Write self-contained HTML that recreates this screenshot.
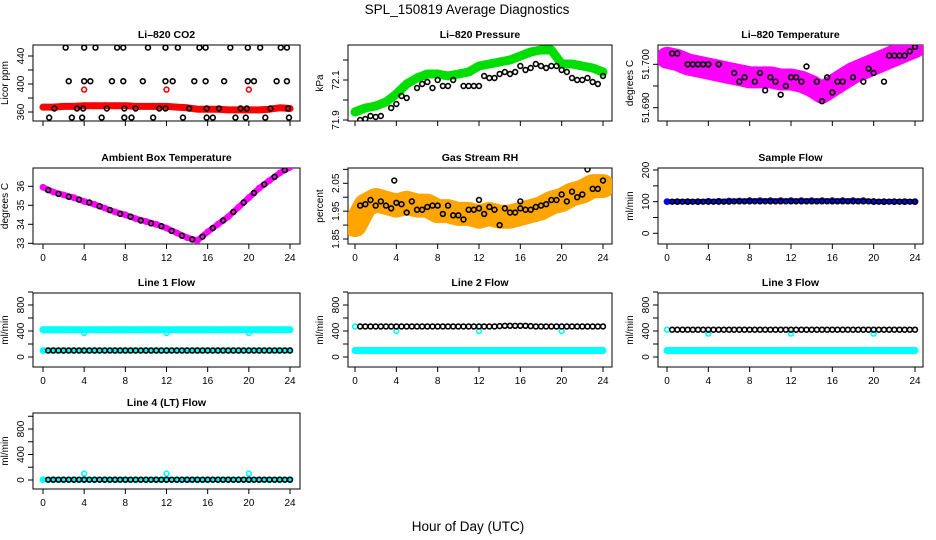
<!DOCTYPE html>
<html><head><meta charset="utf-8"><style>
html,body{margin:0;padding:0;background:#fff}
svg{display:block}
text{font-family:"Liberation Sans",sans-serif;fill:#000}
</style></head><body>
<svg id="chart" width="936" height="540" viewBox="0 0 936 540" xmlns="http://www.w3.org/2000/svg">
<text x="467" y="14" text-anchor="middle" font-size="13.5">SPL_150819  Average Diagnostics</text>
<text x="468" y="531" text-anchor="middle" font-size="13.5">Hour of Day (UTC)</text>
</svg>
<script>
// ---------- data arrays ----------
const hours = [0,1,2,3,4,5,6,7,8,9,10,11,12,13,14,15,16,17,18,19,20,21,22,23,24];
const halfHours = [0.5,1.5,2.5,3.5,4.5,5.5,6.5,7.5,8.5,9.5,10.5,11.5,12.5,13.5,14.5,15.5,16.5,17.5,18.5,19.5,20.5,21.5,22.5,23.5];
const flowX = [0.5,1,1.5,2,2.5,3,3.5,4,4.5,5,5.5,6,6.5,7,7.5,8,8.5,9,9.5,10,10.5,11,11.5,12,12.5,13,13.5,14,14.5,15,15.5,16,16.5,17,17.5,18,18.5,19,19.5,20,20.5,21,21.5,22,22.5,23,23.5,24];
const xTicks = [0,4,8,12,16,20,24];

// CO2
const co2Red = [367,367,368,368,369,369,369,369,369,368,368,368,368,367,366,364,364,364,363,363,363,363,364,366,365];
const co2OutX = [4,12,20];
const co2OutY = [392,392,392];
const co2TopX = [2.2,4.0,5.1,7.2,7.8,10.2,11.9,13.1,15.2,15.8,18.2,19.9,21.1,23.1,23.7];
const co2MidX = [2.5,4.0,4.6,6.7,7.8,9.7,11.9,12.6,14.7,15.8,17.6,19.9,20.5,22.7,23.7];
const co2LowX = [1.1,3.3,3.9,6.2,7.9,9.0,11.3,11.9,14.2,15.9,17.1,19.2,19.8,22.1,23.8];
const co2BotX = [0.6,2.8,3.8,5.7,7.9,8.6,10.7,13.6,15.9,16.5,18.7,19.7,21.6,23.9];
const co2Levels = [452,404,365,352];

// Pressure
const presGreen = [71.94,71.96,71.97,71.99,72.03,72.08,72.11,72.13,72.13,72.12,72.13,72.14,72.17,72.18,72.19,72.20,72.22,72.24,72.25,72.25,72.18,72.18,72.17,72.16,72.14];
const presBlkX = [0.5,1,1.5,2,2.5,3.5,4,4.5,5,6,6.5,7,7.5,8,8.5,9,9.5,10.5,11,11.5,12,12.5,13,13.5,14,14.5,15,15.5,16,16.5,17,17.5,18,18.5,19,19.5,20,20.5,21,21.5,22,22.5,23,23.5,24];
const presBlkY = [71.90,71.905,71.92,71.915,71.92,71.96,71.98,72.02,72.01,72.06,72.08,72.09,72.06,72.1,72.07,72.07,72.1,72.07,72.07,72.07,72.07,72.12,72.11,72.11,72.13,72.14,72.13,72.14,72.17,72.15,72.16,72.18,72.17,72.16,72.17,72.17,72.15,72.14,72.11,72.1,72.1,72.11,72.09,72.08,72.12];

// Li-820 temperature
const tempMag = [51.7015,51.701,51.7,51.6995,51.699,51.6985,51.698,51.6975,51.697,51.697,51.697,51.6965,51.6965,51.696,51.695,51.6935,51.695,51.6965,51.698,51.699,51.7,51.701,51.702,51.703,51.704];
const tempBlkX = [0.5,1,2,2.5,3,3.5,4,5,6.5,7,7.5,8.5,9,9.5,10,10.5,11,11.5,12,12.5,13,13.5,14.5,15,15.5,16,16.5,17,18,19,19.5,20,21,21.5,22,22.5,23,23.5,24];
const tempBlkY = [51.7025,51.7025,51.7,51.7,51.7,51.7,51.7,51.7,51.698,51.696,51.697,51.696,51.698,51.694,51.697,51.696,51.693,51.695,51.697,51.697,51.696,51.6995,51.696,51.6915,51.697,51.6935,51.696,51.696,51.697,51.696,51.699,51.698,51.696,51.702,51.702,51.702,51.702,51.703,51.704];

// Ambient box temperature
const boxMag = [35.95,35.7,35.55,35.4,35.2,35.05,34.85,34.65,34.5,34.3,34.15,34.0,33.8,33.55,33.3,33.15,33.6,34.0,34.4,34.9,35.4,35.9,36.3,36.7,37.0];
const boxBlk = [35.8,35.6,35.45,35.3,35.15,34.95,34.75,34.55,34.4,34.2,34.05,33.9,33.65,33.4,33.2,33.35,33.8,34.2,34.65,35.15,35.65,36.1,36.5,36.85];

// Gas stream RH
const rhOrange = [1.90,1.97,1.99,1.98,1.97,1.98,1.97,1.97,1.95,1.95,1.94,1.94,1.93,1.94,1.93,1.93,1.94,1.95,1.96,1.98,1.99,2.01,2.02,2.04,2.04];
const rhBlkX = [0.5,1,1.5,2,2.5,3,3.5,3.8,4,4.5,5,5.5,6,6.5,7,7.5,8,8.5,9,9.5,10,10.5,11,11.5,12,12,12.5,13,13.5,14,14.5,15,15.5,16,16,16.5,17,17.5,18,18.5,19,19.5,20,20.5,21,21.5,22,22.5,23,23.5,24];
const rhBlkY = [1.97,1.975,1.99,1.97,1.985,1.97,1.96,2.06,1.98,1.975,1.945,1.985,1.955,1.955,1.965,1.97,1.97,1.94,1.97,1.935,1.935,1.92,1.955,1.955,1.96,1.99,1.94,1.965,1.955,1.90,1.96,1.945,1.945,1.985,1.96,1.955,1.955,1.965,1.97,1.975,1.99,1.99,2.01,1.985,2.02,2.0,2.01,2.1,2.03,2.03,2.06];

// Flows
const sampleBlue = [100,100,100,100,101,101,102,102,103,103,103,103,103,103,103,103,103,103,103,103,100,100,100,100,100];
const sampleBlk = [100,100,100,100,100,100,100,100,100,100,100,100,101,101,101,101,101,101,101,101,101,101,101,101,101,101,101,101,101,101,101,101,101,101,101,101,101,101,101,101,100,100,100,100,100,100,100,100];
const l1CyanHi = [420,420,420,420,420,420,420,420,420,420,420,420,420,420,420,420,420,420,420,420,420,420,420,420,420];
const l1CyanLo = [100,100,100,100,100,100,100,100,100,100,100,100,100,100,100,100,100,100,100,100,100,100,100,100,100];
const l1Blk = [100,100,100,100,100,100,100,100,100,100,100,100,100,100,100,100,100,100,100,100,100,100,100,100,100,100,100,100,100,100,100,100,100,100,100,100,100,100,100,100,100,100,100,100,100,100,100,100];
const l1OutY = [370,370,370];
const l2CyanLo = [100,100,100,100,100,100,100,100,100,100,100,100,100,100,100,100,100,100,100,100,100,100,100,100,100];
const l2Blk = [470,470,470,470,470,470,470,470,470,470,470,470,470,470,470,470,470,470,470,470,470,470,470,470,470,470,470,475,480,480,480,480,480,475,470,470,470,470,470,470,470,470,470,470,470,470,470,470];
const l2OutY = [400,400,400];
const l3CyanLo = [100,100,100,100,100,100,100,100,100,100,100,100,100,100,100,100,100,100,100,100,100,100,100,100,100];
const l3Blk = [420,420,420,420,420,420,420,420,420,420,420,420,420,420,420,420,420,420,420,420,420,420,420,420,420,420,420,420,420,420,420,420,420,420,420,420,420,420,420,420,420,420,420,420,420,420,420,420];
const l3OutY = [360,360,360];
const l4Blk = [5,5,5,5,5,5,5,5,5,5,5,5,5,5,5,5,5,5,5,5,5,5,5,5,5,5,5,5,5,5,5,5,5,5,5,5,5,5,5,5,5,5,5,5,5,5,5,5];
const l4Cyan = [5,5,5,5,5,5,5,5,5,5,5,5,5,5,5,5,5,5,5,5,5,5,5,5,5];
const l4OutY = [100,100,100];
const outX = [4,12,20];

// ---------- drawing ----------
const NS = 'http://www.w3.org/2000/svg';
const svg = document.getElementById('chart');
function mk(tag, attrs, parent){
  const e = document.createElementNS(NS, tag);
  for (const k in attrs) e.setAttribute(k, attrs[k]);
  (parent||svg).appendChild(e);
  return e;
}
function panel(p){
  const g = mk('g', {});
  
  
  const sx = h => p.x0 + (p.x24 - p.x0) * h / 24;
  const sy = v => p.yb - (v - p.v0) * (p.yb - p.yt) / (p.v1 - p.v0);
  p.sx = sx; p.sy = sy; p.g = g;
  const box = mk('rect', {x:p.L, y:p.T, width:p.R-p.L, height:p.B-p.T, fill:'none', stroke:'#000', 'stroke-width':1}, g);
  
  
  const t = mk('text', {x:(p.L+p.R)/2, y:p.T-7, 'text-anchor':'middle', 'font-size':'10.5', 'font-weight':'bold'}, g);
  t.textContent = p.title;
  
  
  xTicks.forEach(h => {
    mk('line', {x1:sx(h), x2:sx(h), y1:p.B, y2:p.B+5, stroke:'#000'}, g);
    if (p.showX) {
      const tl = mk('text', {x:sx(h), y:p.B+17, 'text-anchor':'middle', 'font-size':'10'}, g);
      tl.textContent = h;
      
      
    }
  });
  p.yTicks.forEach(v => {
    const y = sy(v);
    mk('line', {x1:p.L-5, x2:p.L, y1:y, y2:y, stroke:'#000'}, g);
  });
  p.yLabels.forEach(v => {
    const y = sy(v);
    const tl = mk('text', {x:p.L-9, y:y, 'text-anchor':'middle', 'font-size':'10', transform:`rotate(-90 ${p.L-9} ${y})`}, g);
    tl.textContent = (p.fmt ? p.fmt(v) : v);
    
    
  });
  const yl = mk('text', {x:p.L-25, y:(p.T+p.B)/2, 'text-anchor':'middle', 'font-size':'10', transform:`rotate(-90 ${p.L-25} ${(p.T+p.B)/2})`}, g);
  yl.textContent = p.ylab;
  
  
  const clip = mk('clipPath', {id:'c'+p.id}, g);
  mk('rect', {x:p.L, y:p.T, width:p.R-p.L, height:p.B-p.T}, clip);
  p.plot = mk('g', {'clip-path':`url(#c${p.id})`}, g);
  return p;
}
function band(p, xs, ys, color, w, name){
  const pts = xs.map((h,i) => p.sx(h) + ',' + p.sy(ys[i])).join(' ');
  const l = mk('polyline', {points:pts, fill:'none', stroke:color, 'stroke-width':w, 'stroke-linejoin':'round', 'stroke-linecap':'round'}, p.plot);
  
  
  xs.forEach((h,i) => {
    const c = mk('circle', {cx:p.sx(h), cy:p.sy(ys[i]), r:2.6, fill:'none', stroke:color, 'stroke-width':1.6}, p.plot);
    
    
  });
}
function pts(p, xs, ys, color, name, r){
  xs.forEach((h,i) => {
    const c = mk('circle', {cx:p.sx(h), cy:p.sy(ys[i]), r:r||2.4, fill:'none', stroke:color, 'stroke-width':1.6}, p.plot);
    
    
  });
}
const C1 = {L:33, R:300, x0:43, x24:290};
const C2 = {L:348, R:612, x0:355, x24:603};
const C3 = {L:658, R:923, x0:667, x24:915};
const R1 = {T:45, B:121}, R2 = {T:168, B:244}, R3 = {T:293, B:367}, R4 = {T:413, B:489};

let p = panel(Object.assign({id:1, name:'panel-co2', title:'Li\u2013820 CO2', ylab:'Licor ppm', showX:false, yb:112, yt:56, v0:360, v1:440, yTicks:[360,380,400,420,440], yLabels:[360,400,440]}, C1, R1));
band(p, hours, co2Red, '#ff0000', 7, 'co2-red-series');
pts(p, co2OutX, co2OutY, '#ff0000', 'co2-red-outlier');
[co2TopX, co2MidX, co2LowX, co2BotX].forEach((xs,k) => pts(p, xs, xs.map(()=>co2Levels[k]), '#000', 'co2-black-point'));

p = panel(Object.assign({id:2, name:'panel-pressure', title:'Li\u2013820 Pressure', ylab:'kPa', showX:false, yb:120, yt:80, v0:71.9, v1:72.1, yTicks:[71.9,72.0,72.1,72.2], yLabels:[71.9,72.1], fmt:v=>v.toFixed(1)}, C2, R1));
band(p, hours, presGreen, '#00dd00', 9, 'pressure-green-series');
pts(p, presBlkX, presBlkY, '#000', 'pressure-black-point');

p = panel(Object.assign({id:3, name:'panel-li820-temperature', title:'Li\u2013820 Temperature', ylab:'degrees C', showX:false, yb:107.7, yt:64.3, v0:51.69, v1:51.70, yTicks:[51.69,51.695,51.70], yLabels:[51.69,51.70], fmt:v=>v.toFixed(3)}, C3, R1));
band(p, hours, tempMag, '#ff00ff', 22, 'temperature-magenta-series');
pts(p, tempBlkX, tempBlkY, '#000', 'temperature-black-point');

p = panel(Object.assign({id:4, name:'panel-ambient-box-temperature', title:'Ambient Box Temperature', ylab:'degrees C', showX:true, yb:243.3, yt:186.3, v0:33, v1:36, yTicks:[33,34,35,36], yLabels:[33,34,35,36]}, C1, R2));
band(p, hours, boxMag, '#ff00ff', 6, 'box-temperature-magenta-series');
pts(p, halfHours, boxBlk, '#000', 'box-temperature-black-point');

p = panel(Object.assign({id:5, name:'panel-gas-stream-rh', title:'Gas Stream RH', ylab:'percent', showX:true, yb:239, yt:183.3, v0:1.85, v1:2.05, yTicks:[1.85,1.9,1.95,2.0,2.05,2.1], yLabels:[1.85,1.95,2.05], fmt:v=>v.toFixed(2)}, C2, R2));
band(p, hours, rhOrange, '#ffa500', 24, 'rh-orange-series');
pts(p, rhBlkX, rhBlkY, '#000', 'rh-black-point');

p = panel(Object.assign({id:6, name:'panel-sample-flow', title:'Sample Flow', ylab:'ml/min', showX:true, yb:233.3, yt:170, v0:0, v1:200, yTicks:[0,50,100,150,200], yLabels:[0,100,200]}, C3, R2));
band(p, hours, sampleBlue, '#0000ff', 5, 'sample-flow-blue-series');
pts(p, flowX, sampleBlk, '#000', 'sample-flow-black-point');

const flowTicks = [0,200,400,600,800,1000], flowLabels = [0,400,800];
p = panel(Object.assign({id:7, name:'panel-line1-flow', title:'Line 1 Flow', ylab:'ml/min', showX:true, yb:357, yt:305, v0:0, v1:800, yTicks:flowTicks, yLabels:flowLabels}, C1, R3));
band(p, hours, l1CyanHi, '#00ffff', 7, 'line1-cyan-high-series');
band(p, hours, l1CyanLo, '#00ffff', 6, 'line1-cyan-low-series');
pts(p, outX, l1OutY, '#00ffff', 'line1-cyan-outlier');
pts(p, flowX, l1Blk, '#000', 'line1-black-point');

p = panel(Object.assign({id:8, name:'panel-line2-flow', title:'Line 2 Flow', ylab:'ml/min', showX:true, yb:357, yt:305, v0:0, v1:800, yTicks:flowTicks, yLabels:flowLabels}, C2, R3));
band(p, hours, l2CyanLo, '#00ffff', 7, 'line2-cyan-low-series');
pts(p, [0], [470], '#00ffff', 'line2-cyan-start');
pts(p, outX, l2OutY, '#00ffff', 'line2-cyan-outlier');
pts(p, flowX, l2Blk, '#000', 'line2-black-point');

p = panel(Object.assign({id:9, name:'panel-line3-flow', title:'Line 3 Flow', ylab:'ml/min', showX:true, yb:357, yt:305, v0:0, v1:800, yTicks:flowTicks, yLabels:flowLabels}, C3, R3));
band(p, hours, l3CyanLo, '#00ffff', 7, 'line3-cyan-low-series');
pts(p, [0], [420], '#00ffff', 'line3-cyan-start');
pts(p, outX, l3OutY, '#00ffff', 'line3-cyan-outlier');
pts(p, flowX, l3Blk, '#000', 'line3-black-point');

p = panel(Object.assign({id:10, name:'panel-line4-flow', title:'Line 4 (LT) Flow', ylab:'ml/min', showX:true, yb:480, yt:429, v0:0, v1:800, yTicks:flowTicks, yLabels:flowLabels}, C1, R4));
band(p, hours, l4Cyan, '#00ffff', 5, 'line4-cyan-series');
pts(p, outX, l4OutY, '#00ffff', 'line4-cyan-outlier');
pts(p, flowX, l4Blk, '#000', 'line4-black-point');
</script>
</body></html>
